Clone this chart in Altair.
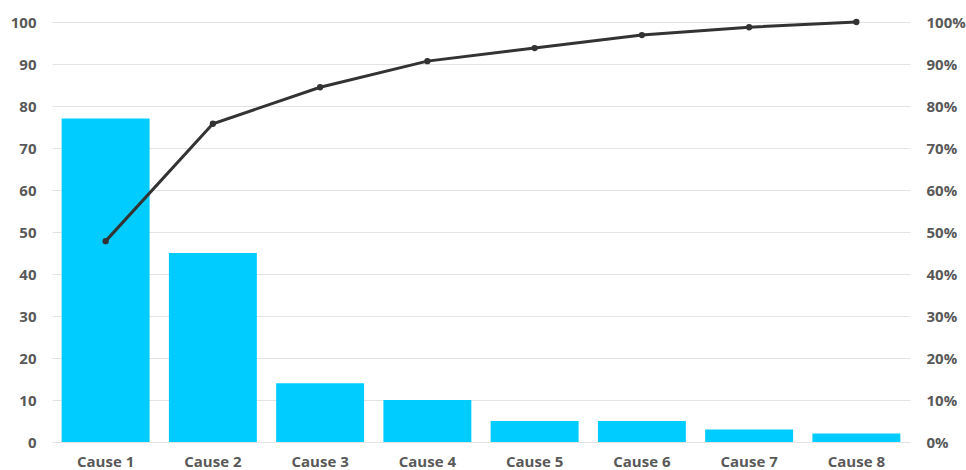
import altair as alt
import pandas as pd

causes = ["Cause 1", "Cause 2", "Cause 3", "Cause 4", "Cause 5", "Cause 6", "Cause 7", "Cause 8"]
counts = [77, 45, 14, 10, 5, 5, 3, 2]

total = sum(counts)
cum = []
s = 0
for c in counts:
    s += c
    cum.append(s / total)

df = pd.DataFrame({"cause": causes, "count": counts, "cum": cum})

FONT = "Open Sans"
LABEL_COLOR = "#595959"
FS = 15

x = alt.X("cause:N", sort=causes, title=None,
          scale=alt.Scale(paddingInner=0.18, paddingOuter=0.09),
          axis=alt.Axis(labelAngle=0, domain=False, ticks=False, labelPadding=12,
                        labelFont=FONT, labelFontSize=FS, labelFontWeight="bold",
                        labelColor=LABEL_COLOR, grid=False))

bars = alt.Chart(df).mark_bar(color="#00CCFF").encode(
    x=x,
    y=alt.Y("count:Q", title=None,
            scale=alt.Scale(domain=[0, 100], nice=False),
            axis=alt.Axis(values=list(range(0, 101, 10)), domain=False, ticks=False,
                          labelPadding=16, labelFont=FONT, labelFontSize=FS,
                          labelFontWeight="bold", labelColor=LABEL_COLOR,
                          gridColor="#e3e3e3", gridWidth=1)),
)

line = alt.Chart(df).mark_line(color="#333333", strokeWidth=3,
                               point=alt.OverlayMarkDef(color="#333333", size=40, filled=True)).encode(
    x=x,
    y=alt.Y("cum:Q", title=None,
            scale=alt.Scale(domain=[0, 1], nice=False),
            axis=alt.Axis(orient="right", format=".0%", values=[i / 10 for i in range(11)],
                          domain=False, ticks=False, grid=False, labelPadding=16,
                          labelFont=FONT, labelFontSize=FS, labelFontWeight="bold",
                          labelColor=LABEL_COLOR)),
)

chart = alt.layer(bars, line).resolve_scale(y="independent").properties(
    width=858, height=420,
    autosize=alt.AutoSizeParams(type="none"),
    padding={"left": 52, "top": 22, "right": 56, "bottom": 28},
    background="white",
).configure_view(stroke=None)

chart.save("out.html", embed_options={"renderer": "svg", "actions": False})
